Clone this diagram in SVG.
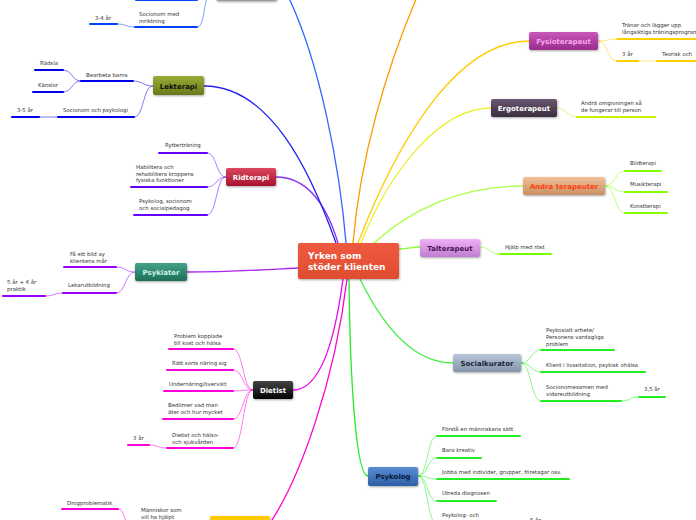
<svg xmlns="http://www.w3.org/2000/svg" width="696" height="520" viewBox="0 0 696 520">
<style>
.t{font-family:"DejaVu Sans",Verdana,sans-serif;font-size:5.4px;fill:#333}
.n{font-family:"DejaVu Sans",Verdana,sans-serif;font-size:7px;font-weight:bold;text-anchor:middle}
.c{fill:none;stroke-width:1.3;stroke-linecap:round}
.s{fill:none;stroke-width:0.8;opacity:0.65}
.u{fill:none;stroke-width:2;stroke-linecap:round}
</style>
<defs>
<filter id="sh" x="-20%" y="-20%" width="140%" height="160%"><feDropShadow dx="0.6" dy="1" stdDeviation="0.8" flood-color="#000" flood-opacity="0.35"/></filter>
<linearGradient id="gC" x1="0" y1="0" x2="0" y2="1"><stop offset="0" stop-color="#ee5a40"/><stop offset="1" stop-color="#e04c30"/></linearGradient>
<linearGradient id="gLek" x1="0" y1="0" x2="0" y2="1"><stop offset="0" stop-color="#9aac36"/><stop offset="1" stop-color="#68791a"/></linearGradient>
<linearGradient id="gRid" x1="0" y1="0" x2="0" y2="1"><stop offset="0" stop-color="#dc4560"/><stop offset="1" stop-color="#a8142e"/></linearGradient>
<linearGradient id="gPsy" x1="0" y1="0" x2="0" y2="1"><stop offset="0" stop-color="#46a288"/><stop offset="1" stop-color="#1d6e57"/></linearGradient>
<linearGradient id="gDie" x1="0" y1="0" x2="0" y2="1"><stop offset="0" stop-color="#444"/><stop offset="1" stop-color="#050505"/></linearGradient>
<linearGradient id="gFys" x1="0" y1="0" x2="0" y2="1"><stop offset="0" stop-color="#c858b8"/><stop offset="1" stop-color="#9a2c8c"/></linearGradient>
<linearGradient id="gErg" x1="0" y1="0" x2="0" y2="1"><stop offset="0" stop-color="#6a5870"/><stop offset="1" stop-color="#3a2c40"/></linearGradient>
<linearGradient id="gAnd" x1="0" y1="0" x2="0" y2="1"><stop offset="0" stop-color="#f0c09a"/><stop offset="1" stop-color="#c89064"/></linearGradient>
<linearGradient id="gTal" x1="0" y1="0" x2="0" y2="1"><stop offset="0" stop-color="#eeb0f4"/><stop offset="1" stop-color="#c07ed0"/></linearGradient>
<linearGradient id="gSoc" x1="0" y1="0" x2="0" y2="1"><stop offset="0" stop-color="#b8c6d8"/><stop offset="1" stop-color="#8495ac"/></linearGradient>
<linearGradient id="gPsk" x1="0" y1="0" x2="0" y2="1"><stop offset="0" stop-color="#5a8ed4"/><stop offset="1" stop-color="#2c5ea6"/></linearGradient>
<linearGradient id="gGry" x1="0" y1="0" x2="0" y2="1"><stop offset="0" stop-color="#ccc"/><stop offset="1" stop-color="#999"/></linearGradient>
</defs>

<g id="connectors">
<!-- main branches -->
<path class="c" stroke="#3366ff" d="M346,243 C340,170 320,60 286,-8"/>
<path class="c" stroke="#ff9900" d="M353,243 C360,160 385,70 420,-10"/>
<path class="c" stroke="#ffcc00" d="M358,243 C390,160 450,41 529,41"/>
<path class="c" stroke="#eeee33" d="M361,243 C390,170 440,108 491,108"/>
<path class="c" stroke="#aaff44" d="M374,243 C410,210 460,186 523,186"/>
<path class="c" stroke="#88ff33" d="M399,249 C410,249 410,247 420,247"/>
<path class="c" stroke="#44ee44" d="M360,279 C380,320 410,363 453,363"/>
<path class="c" stroke="#22ee22" d="M349,279 C350,380 356,476 368,476"/>
<path class="c" stroke="#ee00ee" d="M343,279 C335,340 320,390 293,390"/>
<path class="c" stroke="#ff00cc" d="M347,279 C335,380 300,480 268,526"/>
<path class="c" stroke="#aa22ee" d="M298,268 C260,270 230,272 187,272"/>
<path class="c" stroke="#8833ee" d="M338,243 C325,200 305,177 276,177"/>
<path class="c" stroke="#2222ee" d="M336,243 C310,170 270,86 204,86"/>
<!-- top node children -->
<path class="s" stroke="#0044ff" d="M197,27 C205,27 203,0 210,-8"/>
<path class="s" stroke="#0044ff" d="M117,24 C126,24 126,27 135,27"/>
<!-- Lekterapi -->
<path class="s" stroke="#0000ee" d="M153,86 C143,86 143,81 133,81"/>
<path class="s" stroke="#0000ee" d="M153,86 C143,86 144,117 134,117"/>
<path class="s" stroke="#0000ee" d="M81,81 C72,81 72,70 63,70"/>
<path class="s" stroke="#0000ee" d="M81,81 C72,81 72,92 63,92"/>
<path class="s" stroke="#0000ee" d="M58,117 C48,117 48,117 39,117"/>
<!-- Ridterapi -->
<path class="s" stroke="#6600ff" d="M226,177 C216,177 217,153 207,153"/>
<path class="s" stroke="#6600ff" d="M226,177 C216,177 217,187 207,187"/>
<path class="s" stroke="#6600ff" d="M226,177 C216,177 217,215 207,215"/>
<!-- Psykiater -->
<path class="s" stroke="#9900ff" d="M135,272 C125,272 126,267 116,267"/>
<path class="s" stroke="#9900ff" d="M135,272 C125,272 126,293 116,293"/>
<path class="s" stroke="#9900ff" d="M63,293 C54,293 54,296 45,296"/>
<!-- Dietist -->
<path class="s" stroke="#ff00dd" d="M253,390 C243,390 243,349 233,349"/>
<path class="s" stroke="#ff00dd" d="M253,390 C243,390 243,370 233,370"/>
<path class="s" stroke="#ff00dd" d="M253,390 C243,390 243,391 233,391"/>
<path class="s" stroke="#ff00dd" d="M253,390 C243,390 243,419 233,419"/>
<path class="s" stroke="#ff00dd" d="M253,390 C243,390 243,448 233,448"/>
<path class="s" stroke="#ff00dd" d="M167,448 C158,448 158,445 149,445"/>
<!-- bottom -->
<path class="s" stroke="#ff00dd" d="M118,509 C124,509 124,520 128,526"/>
<!-- Fysio -->
<path class="s" stroke="#ffcc00" d="M598,41 C608,41 607,39 617,39"/>
<path class="s" stroke="#ffcc00" d="M598,41 C608,41 607,61 617,61"/>
<path class="s" stroke="#ffcc00" d="M638,61 C648,61 647,61 657,61"/>
<!-- Ergo -->
<path class="s" stroke="#ccee00" d="M557,108 C567,108 567,117 577,117"/>
<!-- Andra -->
<path class="s" stroke="#88ff00" d="M605,186 C615,186 615,171 625,171"/>
<path class="s" stroke="#88ff00" d="M605,186 C615,186 615,192 625,192"/>
<path class="s" stroke="#88ff00" d="M605,186 C615,186 615,213 625,213"/>
<!-- Tal -->
<path class="s" stroke="#77ff00" d="M480,247 C490,247 490,254 500,254"/>
<!-- Social -->
<path class="s" stroke="#22ee22" d="M521,363 C531,363 531,350 541,350"/>
<path class="s" stroke="#22ee22" d="M521,363 C531,363 531,372 541,372"/>
<path class="s" stroke="#22ee22" d="M521,363 C531,363 531,401 541,401"/>
<path class="s" stroke="#22ee22" d="M621,401 C630,401 630,397 639,397"/>
<!-- Psykolog -->
<path class="s" stroke="#22ee22" d="M418,476 C428,476 427,436 437,436"/>
<path class="s" stroke="#22ee22" d="M418,476 C428,476 427,458 437,458"/>
<path class="s" stroke="#22ee22" d="M418,476 C428,476 427,479 437,479"/>
<path class="s" stroke="#22ee22" d="M418,476 C428,476 427,501 437,501"/>
<path class="s" stroke="#22ee22" d="M418,476 C428,476 427,524 437,524"/>
</g>

<g id="center"><rect x="298" y="243" width="101" height="36" rx="2" fill="url(#gC)" filter="url(#sh)"/>
<text x="308" y="259" style="font-family:'DejaVu Sans',Verdana,sans-serif;font-size:9px;font-weight:bold;fill:#fff">Yrken som</text>
<text x="308" y="270" style="font-family:'DejaVu Sans',Verdana,sans-serif;font-size:9px;font-weight:bold;fill:#fff">stöder klienten</text></g>

<g id="top-node"><rect x="216" y="-20" width="61" height="21" rx="2" fill="url(#gGry)" filter="url(#sh)"/>
<line class="u" stroke="#0044ff" x1="136" y1="0" x2="197" y2="0"/>
<text class="t" x="139" y="15.5">Socionom med</text><text class="t" x="139" y="22.5">inriktning</text>
<line class="u" stroke="#0044ff" x1="135" y1="27" x2="197" y2="27"/>
<text class="t" x="95" y="19.5">3-4 år</text>
<line class="u" stroke="#0044ff" x1="90" y1="24" x2="117" y2="24"/></g>

<g id="lekterapi"><rect x="153" y="76" width="51" height="19" rx="2" fill="url(#gLek)" filter="url(#sh)"/>
<text class="n" x="178.5" y="88.5" fill="#111">Lekterapi</text>
<text class="t" x="86" y="76.5">Bearbeta barns</text><line class="u" stroke="#0000ee" x1="81" y1="81" x2="133" y2="81"/>
<text class="t" x="40" y="65">Rädsla</text><line class="u" stroke="#0000ee" x1="35" y1="70" x2="63" y2="70"/>
<text class="t" x="38" y="87">Känslor</text><line class="u" stroke="#0000ee" x1="33" y1="92" x2="63" y2="92"/>
<text class="t" x="63" y="112">Socionom och psykologi</text><line class="u" stroke="#0000ee" x1="58" y1="117" x2="134" y2="117"/>
<text class="t" x="17" y="112">3-5 år</text><line class="u" stroke="#0000ee" x1="12" y1="117" x2="39" y2="117"/></g>

<g id="ridterapi"><rect x="226" y="168" width="50" height="18" rx="2" fill="url(#gRid)" filter="url(#sh)"/>
<text class="n" x="251" y="179.5" fill="#fff">Ridterapi</text>
<text class="t" x="165" y="147">Rytterträning</text><line class="u" stroke="#6600ff" x1="159" y1="153" x2="207" y2="153"/>
<text class="t" x="136" y="169">Habilitera och</text><text class="t" x="136" y="175.5">rehabilitera kroppens</text><text class="t" x="136" y="182">fysiska funktioner</text>
<line class="u" stroke="#6600ff" x1="131" y1="187" x2="207" y2="187"/>
<text class="t" x="139" y="203">Psykolog, socionom</text><text class="t" x="139" y="210">och socialpedagog</text>
<line class="u" stroke="#6600ff" x1="134" y1="215" x2="207" y2="215"/></g>

<g id="psykiater"><rect x="135" y="263" width="52" height="18" rx="2" fill="url(#gPsy)" filter="url(#sh)"/>
<text class="n" x="161" y="274.5" fill="#c8f4e4">Psykiater</text>
<text class="t" x="70" y="256">Få ett bild ay</text><text class="t" x="70" y="262.5">klientens mår</text>
<line class="u" stroke="#9900ff" x1="64" y1="267" x2="116" y2="267"/>
<text class="t" x="68" y="287">Lekarutbildning</text><line class="u" stroke="#9900ff" x1="63" y1="293" x2="116" y2="293"/>
<text class="t" x="7" y="284">5 år + 4 år</text><text class="t" x="7" y="290.5">praktik</text>
<line class="u" stroke="#9900ff" x1="3" y1="296" x2="45" y2="296"/></g>

<g id="dietist"><rect x="253" y="381" width="40" height="18" rx="2" fill="url(#gDie)" filter="url(#sh)"/>
<text class="n" x="273" y="392.5" fill="#fff">Dietist</text>
<text class="t" x="174" y="338">Problem kopplade</text><text class="t" x="174" y="344.5">till kost och hälsa</text>
<line class="u" stroke="#ff00dd" x1="169" y1="349" x2="233" y2="349"/>
<text class="t" x="172" y="365">Rätt sorts näring sig</text><line class="u" stroke="#ff00dd" x1="167" y1="370" x2="233" y2="370"/>
<text class="t" x="169" y="386">Undernäring/övervikt</text><line class="u" stroke="#ff00dd" x1="164" y1="391" x2="233" y2="391"/>
<text class="t" x="168" y="407">Bedömer vad man</text><text class="t" x="168" y="414">äter och hur mycket</text>
<line class="u" stroke="#ff00dd" x1="163" y1="419" x2="233" y2="419"/>
<text class="t" x="172" y="437">Dietist och hälso-</text><text class="t" x="172" y="443.5">och sjukvården</text>
<line class="u" stroke="#ff00dd" x1="167" y1="448" x2="233" y2="448"/>
<text class="t" x="133" y="440">3 år</text><line class="u" stroke="#ff00dd" x1="128" y1="445" x2="149" y2="445"/></g>

<g id="bottom-node"><rect x="210" y="516" width="60" height="20" rx="2" fill="#ffcc00" filter="url(#sh)"/>
<text class="t" x="67" y="505">Drogproblematik</text><line class="u" stroke="#ff00dd" x1="62" y1="509" x2="118" y2="509"/>
<text class="t" x="141" y="512">Människor som</text><text class="t" x="141" y="519">vill ha hjälpt</text></g>

<g id="fysioterapeut"><rect x="529" y="32" width="69" height="18" rx="2" fill="url(#gFys)" filter="url(#sh)"/>
<text class="n" x="563.5" y="43.5" fill="#f6a8ee">Fysioterapeut</text>
<text class="t" x="622" y="27">Tränar och lägger upp</text><text class="t" x="622" y="34">långsiktiga träningsprogram</text>
<line class="u" stroke="#ffd000" x1="617" y1="39" x2="700" y2="39"/>
<text class="t" x="622" y="55.5">3 år</text><line class="u" stroke="#ffd000" x1="617" y1="61" x2="638" y2="61"/>
<text class="t" x="662" y="55.5">Teorisk och</text><line class="u" stroke="#ffd000" x1="657" y1="61" x2="700" y2="61"/></g>

<g id="ergoterapeut"><rect x="491" y="99" width="66" height="18" rx="2" fill="url(#gErg)" filter="url(#sh)"/>
<text class="n" x="524" y="110.5" fill="#fff">Ergoterapeut</text>
<text class="t" x="581" y="105">Andrä omgivningen så</text><text class="t" x="581" y="112">de fungerar till person</text>
<line class="u" stroke="#ccee00" x1="577" y1="117" x2="655" y2="117"/></g>

<g id="andra-terapeuter"><rect x="523" y="177" width="82" height="18" rx="2" fill="url(#gAnd)" filter="url(#sh)"/>
<text class="n" x="564" y="188.5" fill="#ff4010">Andra terapeuter</text>
<text class="t" x="630" y="165">Bildterapi</text><line class="u" stroke="#88ff00" x1="625" y1="171" x2="661" y2="171"/>
<text class="t" x="630" y="186">Musikterapi</text><line class="u" stroke="#88ff00" x1="625" y1="192" x2="667" y2="192"/>
<text class="t" x="630" y="208">Konstterapi</text><line class="u" stroke="#88ff00" x1="625" y1="213" x2="667" y2="213"/></g>

<g id="talterapeut"><rect x="420" y="239" width="60" height="18" rx="2" fill="url(#gTal)" filter="url(#sh)"/>
<text class="n" x="450" y="250.5" fill="#4a1458">Talterapeut</text>
<text class="t" x="505" y="249">Hjälp med röst</text><line class="u" stroke="#77ff00" x1="500" y1="254" x2="551" y2="254"/></g>

<g id="socialkurator"><rect x="453" y="354" width="68" height="18" rx="2" fill="url(#gSoc)" filter="url(#sh)"/>
<text class="n" x="487" y="365.5" fill="#1a2838">Socialkurator</text>
<text class="t" x="546" y="332">Psykosialt arbete/</text><text class="t" x="546" y="339">Personens vardagliga</text><text class="t" x="546" y="345.5">problem</text>
<line class="u" stroke="#22ee22" x1="541" y1="350" x2="614" y2="350"/>
<text class="t" x="546" y="367">Klient i livssitation, psykisk ohälsa</text><line class="u" stroke="#22ee22" x1="541" y1="372" x2="645" y2="372"/>
<text class="t" x="546" y="389">Socionomexamen med</text><text class="t" x="546" y="395.5">vidareutbildning</text>
<line class="u" stroke="#22ee22" x1="541" y1="401" x2="621" y2="401"/>
<text class="t" x="644" y="391">3,5 år</text><line class="u" stroke="#22ee22" x1="639" y1="397" x2="665" y2="397"/></g>

<g id="psykolog"><rect x="368" y="467" width="50" height="19" rx="2" fill="url(#gPsk)" filter="url(#sh)"/>
<text class="n" x="393" y="479" fill="#0a1838">Psykolog</text>
<text class="t" x="442" y="431">Förstå en människans sätt</text><line class="u" stroke="#22ee22" x1="437" y1="436" x2="520" y2="436"/>
<text class="t" x="442" y="452">Bara kreativ</text><line class="u" stroke="#22ee22" x1="437" y1="458" x2="481" y2="458"/>
<text class="t" x="442" y="474">Jobba med individer, grupper, företagar osv.</text><line class="u" stroke="#22ee22" x1="437" y1="479" x2="569" y2="479"/>
<text class="t" x="442" y="495">Utreda diagnosen</text><line class="u" stroke="#22ee22" x1="437" y1="501" x2="496" y2="501"/>
<text class="t" x="442" y="517">Psykolog- och</text>
<text class="t" x="530" y="521.5">5 år</text></g>
</svg>
